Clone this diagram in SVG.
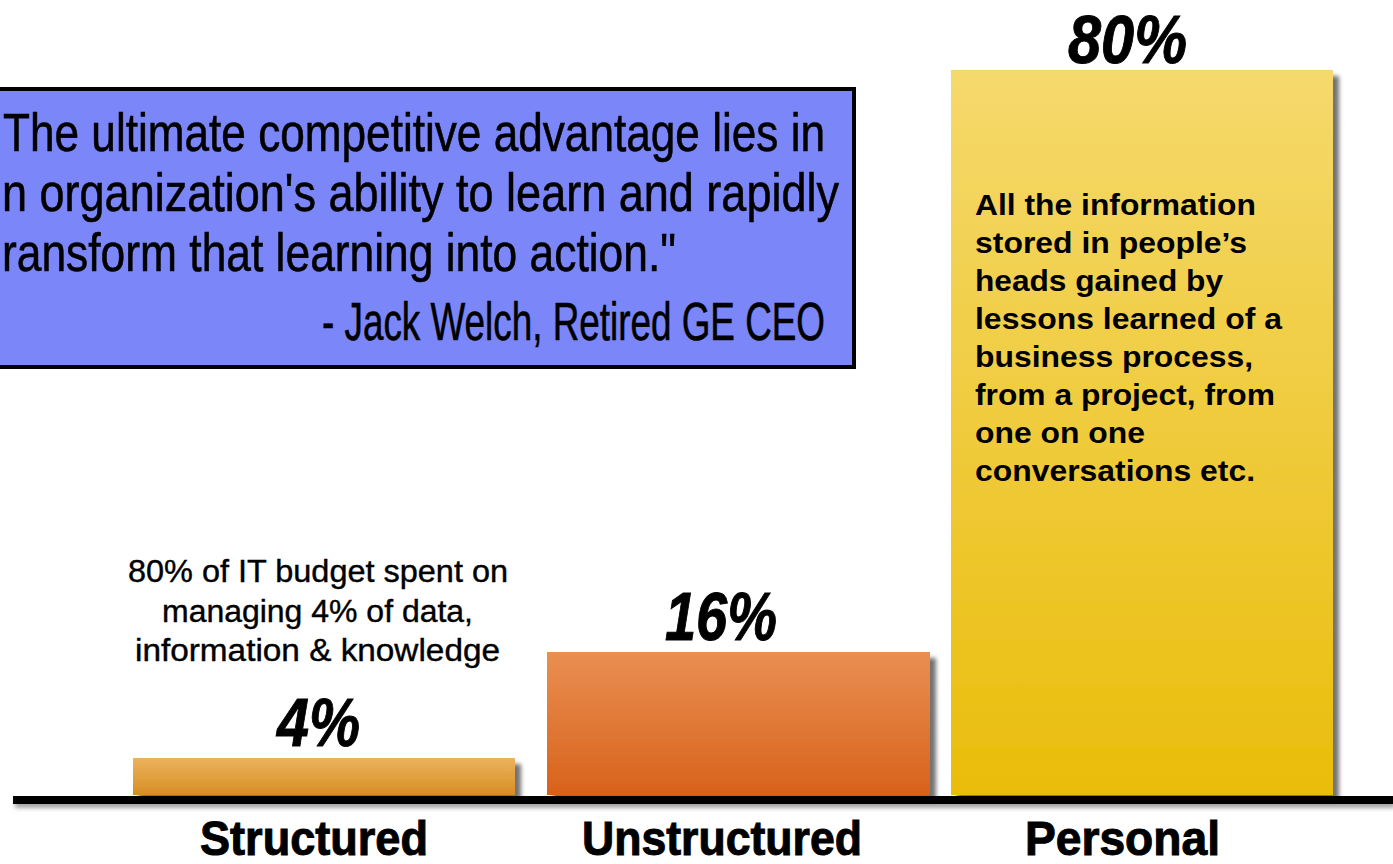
<svg xmlns="http://www.w3.org/2000/svg" width="1393" height="864" viewBox="0 0 1393 864">
<defs>
  <linearGradient id="gS" x1="0" y1="0" x2="0" y2="1">
    <stop offset="0" stop-color="#ECB35E"/>
    <stop offset="1" stop-color="#D78D22"/>
  </linearGradient>
  <linearGradient id="gU" x1="0" y1="0" x2="0" y2="1">
    <stop offset="0" stop-color="#E98F52"/>
    <stop offset="1" stop-color="#D8621B"/>
  </linearGradient>
  <linearGradient id="gP" x1="0" y1="0" x2="0" y2="1">
    <stop offset="0" stop-color="#F5D96C"/>
    <stop offset="1" stop-color="#EABD0B"/>
  </linearGradient>
  <filter id="sh" x="-5%" y="-5%" width="115%" height="115%">
    <feDropShadow dx="6" dy="6" stdDeviation="2" flood-color="#000" flood-opacity="0.55"/>
  </filter>
  <filter id="lsh" x="-5%" y="-100%" width="110%" height="400%">
    <feDropShadow dx="2" dy="4" stdDeviation="2" flood-color="#000" flood-opacity="0.35"/>
  </filter>
</defs>
<style>
  .q{font-family:"Liberation Sans",Arial,sans-serif;font-size:53px;fill:#000;stroke:#000;stroke-width:0.6}
  .s{font-family:"Liberation Sans",Arial,sans-serif;font-size:31px;fill:#000;stroke:#000;stroke-width:0.4}
  .pct{font-family:"Liberation Sans",Arial,sans-serif;font-size:68px;font-weight:bold;font-style:italic;fill:#000;stroke:#000;stroke-width:1}
  .lab{font-family:"Liberation Sans",Arial,sans-serif;font-size:48px;font-weight:bold;fill:#000;stroke:#000;stroke-width:1}
  .p{font-family:"Liberation Sans",Arial,sans-serif;font-size:29px;font-weight:bold;fill:#000}
</style>
<rect width="1393" height="864" fill="#fff"/>

<g id="quote">
  <rect x="-10" y="89" width="864" height="278" fill="#7B87F8" stroke="#000" stroke-width="4"/>
  <text class="q" x="3" y="151" textLength="822" lengthAdjust="spacingAndGlyphs">The ultimate competitive advantage lies in</text>
  <text class="q" x="2" y="211" textLength="837" lengthAdjust="spacingAndGlyphs">n organization's ability to learn and rapidly</text>
  <text class="q" x="2" y="271" textLength="674" lengthAdjust="spacingAndGlyphs">ransform that learning into action."</text>
  <text class="q" x="322" y="340" textLength="503" lengthAdjust="spacingAndGlyphs">- Jack Welch, Retired GE CEO</text>
</g>

<g id="bar-structured">
  <rect x="133" y="758" width="382" height="37" fill="url(#gS)" filter="url(#sh)"/>
  <text class="pct" x="277" y="746" textLength="83" lengthAdjust="spacingAndGlyphs">4%</text>
  <text class="s" x="128" y="582" textLength="380" lengthAdjust="spacingAndGlyphs">80% of IT budget spent on</text>
  <text class="s" x="162" y="622" textLength="311" lengthAdjust="spacingAndGlyphs">managing 4% of data,</text>
  <text class="s" x="135" y="661" textLength="365" lengthAdjust="spacingAndGlyphs">information &amp; knowledge</text>
  <text class="lab" x="200" y="855" textLength="228" lengthAdjust="spacingAndGlyphs">Structured</text>
</g>

<g id="bar-unstructured">
  <rect x="547" y="652" width="383" height="143" fill="url(#gU)" filter="url(#sh)"/>
  <text class="pct" x="665" y="640" textLength="112" lengthAdjust="spacingAndGlyphs">16%</text>
  <text class="lab" x="582" y="855" textLength="280" lengthAdjust="spacingAndGlyphs">Unstructured</text>
</g>

<g id="bar-personal">
  <rect x="951" y="70" width="382" height="725" fill="url(#gP)" filter="url(#sh)"/>
  <text class="pct" x="1068" y="63" textLength="119" lengthAdjust="spacingAndGlyphs">80%</text>
  <text class="p"><tspan x="975" y="215" textLength="281" lengthAdjust="spacingAndGlyphs">All the information</tspan><tspan x="975" y="253" textLength="272" lengthAdjust="spacingAndGlyphs">stored in people’s</tspan><tspan x="975" y="291" textLength="248" lengthAdjust="spacingAndGlyphs">heads gained by</tspan><tspan x="975" y="329" textLength="307" lengthAdjust="spacingAndGlyphs">lessons learned of a</tspan><tspan x="975" y="367" textLength="278" lengthAdjust="spacingAndGlyphs">business process,</tspan><tspan x="975" y="405" textLength="300" lengthAdjust="spacingAndGlyphs">from a project, from</tspan><tspan x="975" y="443" textLength="170" lengthAdjust="spacingAndGlyphs">one on one</tspan><tspan x="975" y="481" textLength="280" lengthAdjust="spacingAndGlyphs">conversations etc.</tspan></text>
  <text class="lab" x="1025" y="855" textLength="195" lengthAdjust="spacingAndGlyphs">Personal</text>
</g>

<g id="connectors">
  <rect x="13" y="796" width="1380" height="8" fill="#000" filter="url(#lsh)"/>
</g>
</svg>
